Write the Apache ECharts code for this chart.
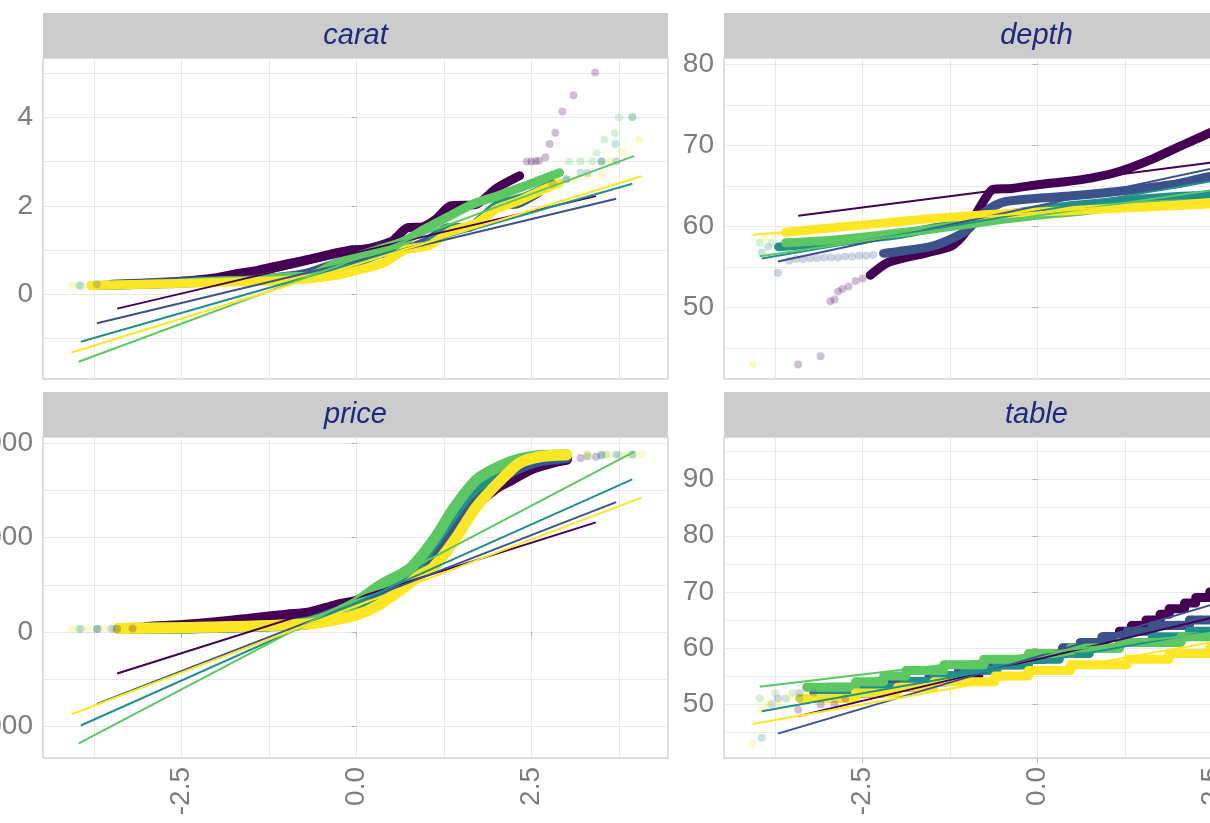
<!DOCTYPE html>
<html>
<head>
<meta charset="utf-8">
<script src="https://cdn.jsdelivr.net/npm/echarts@6/dist/echarts.min.js"></script>
<style>
  html, body { margin: 0; padding: 0; background: #ffffff; }
  #chart { width: 1210px; height: 823px; }
</style>
</head>
<body>
<div id="chart"></div>
<script>
// Normal QQ plots of four diamond measurements, one colour per cut.
const cuts = ['Fair', 'Good', 'Very Good', 'Premium', 'Ideal'];
const cutColors = ['#440154', '#3B528B', '#21908C', '#5DC863', '#FDE725'];
const facetNames = ['carat', 'depth', 'price', 'table'];

// theoretical quantiles (shared x scale)
const xRange = [-4.48, 4.45];
const xMajor = [-2.5, 0, 2.5];
const xMinor = [-3.75, -1.25, 1.25, 3.75];

// sample value scales (free per facet)
const caratRange = [-1.91, 5.34];
const caratMajor = [0, 2, 4];
const caratMinor = [-1, 1, 3, 5];
const depthRange = [41.2, 80.8];
const depthMajor = [50, 60, 70, 80];
const depthMinor = [45, 55, 65, 75];
const priceRange = [-13325, 20667];
const priceMajor = [-10000, 0, 10000, 20000];
const priceMinor = [-5000, 5000, 15000];
const tableRange = [40.4, 97.6];
const tableMajor = [50, 60, 70, 80, 90];
const tableMinor = [45, 55, 65, 75, 85, 95];

// ---- carat: [theoretical, sample] ----
const caratFair = [[-3.42,0.22],[-3.0,0.25],[-2.5,0.3],[-2.0,0.38],[-1.77,0.45],[-1.4,0.55],[-1.0,0.69],[-0.8,0.75],[-0.4,0.9],[-0.06,1.01],[0.1,1.02],[0.5,1.2],[0.72,1.5],[0.95,1.53],[1.15,1.72],[1.34,2.0],[1.7,2.03],[2.0,2.4],[2.33,2.68]];
const caratGood = [[-3.5,0.23],[-3.0,0.26],[-2.5,0.3],[-2.0,0.31],[-1.5,0.33],[-1.0,0.41],[-0.67,0.5],[-0.3,0.7],[0,0.82],[0.3,0.92],[0.67,1.01],[1.0,1.2],[1.3,1.5],[1.6,1.51],[2.0,2.0],[2.3,2.05],[2.6,2.3]];
const caratVeryGood = [[-3.7,0.2],[-3.0,0.23],[-2.5,0.25],[-2.0,0.3],[-1.5,0.31],[-1.0,0.35],[-0.67,0.41],[-0.3,0.55],[0,0.71],[0.3,0.9],[0.67,1.02],[1.0,1.11],[1.3,1.5],[1.6,1.52],[2.0,2.01],[2.4,2.2],[2.8,2.5]];
const caratPremium = [[-3.7,0.2],[-3.0,0.23],[-2.5,0.26],[-2.0,0.3],[-1.5,0.32],[-1.0,0.4],[-0.67,0.42],[-0.3,0.7],[0,0.86],[0.3,1.01],[0.67,1.2],[1.0,1.5],[1.34,1.78],[1.66,2.04],[2.0,2.22],[2.47,2.49],[2.9,2.75]];
const caratIdeal = [[-3.8,0.2],[-3.0,0.23],[-2.0,0.27],[-1.3,0.3],[-0.7,0.35],[-0.34,0.42],[0,0.54],[0.4,0.72],[0.7,1.01],[1.04,1.11],[1.34,1.42],[1.7,1.6],[2.0,1.93],[2.3,2.1],[2.61,2.33],[2.9,2.52]];
const caratFairTail = [[2.43,3.0],[2.5,3.0],[2.56,3.01],[2.61,3.02],[2.7,3.1],[2.76,3.4],[2.84,3.65],[2.94,4.13],[3.1,4.5],[3.41,5.01]];
const caratGoodTail = [[-3.71,0.23],[2.8,2.5],[3.0,2.6],[3.3,2.74],[3.5,3.0],[3.71,3.01]];
const caratVeryGoodTail = [[-3.94,0.2],[3.0,2.6],[3.2,2.75],[3.5,3.0],[3.7,3.4],[3.94,4.0]];
const caratPremiumTail = [[-3.97,0.2],[3.04,3.0],[3.2,3.01],[3.37,3.01],[3.43,3.2],[3.54,3.5],[3.69,3.64],[3.75,4.0],[3.94,4.01]];
const caratIdealTail = [[-4.07,0.2],[3.1,2.6],[3.3,2.67],[3.51,2.7],[3.61,3.0],[3.79,3.22],[4.04,3.5]];
// reference lines: [q from, value, q to, value]
const caratLines = [[-3.42,-0.32,3.42,2.22],[-3.71,-0.65,3.71,2.16],[-3.94,-1.07,3.94,2.5],[-3.97,-1.52,3.97,3.13],[-4.07,-1.31,4.07,2.67]];

// ---- depth ----
const depthFair = [[-2.39,54],[-2.13,55.6],[-1.57,56.8],[-1.23,57.6],[-1.03,59.3],[-0.87,61.7],[-0.73,63.7],[-0.64,64.6],[-0.37,64.7],[0.03,65.2],[0.63,65.8],[1.13,66.7],[1.63,68.3],[2.03,69.9],[2.47,71.6],[2.9,73.5]];
const depthGood = [[-2.2,56.7],[-2.0,56.9],[-1.5,57.6],[-1.2,58.6],[-1.0,59.6],[-0.85,61],[-0.67,62.3],[-0.45,63.1],[0,63.5],[0.5,63.8],[1.0,64.2],[1.5,64.7],[2.0,65.3],[2.47,66.2],[3.0,66.6]];
const depthVeryGood = [[-3.7,57.5],[-3.3,57.8],[-3.0,58],[-2.5,58.5],[-2.0,59],[-1.5,59.8],[-1.0,60.5],[-0.5,61.4],[0,62.1],[0.5,62.6],[1.0,63],[1.5,63.4],[2.0,63.7],[2.5,63.9],[3.0,64]];
const depthPremium = [[-3.6,58],[-3.0,58.3],[-2.5,58.7],[-2.0,59.2],[-1.5,59.7],[-1.0,60.3],[-0.5,60.9],[0,61.4],[0.5,61.8],[1.0,62.3],[1.5,62.6],[2.0,62.8],[2.5,62.9],[3.0,63]];
const depthIdeal = [[-3.6,59.3],[-3.0,59.8],[-2.5,60.2],[-2.0,60.6],[-1.5,61],[-1.0,61.3],[-0.5,61.6],[0,61.8],[0.5,62],[1.0,62.2],[1.5,62.4],[2.0,62.6],[2.5,62.8],[3.0,63]];
const depthFairTail = [[-3.42,43],[-3.1,44],[-2.96,50.8],[-2.9,51],[-2.85,52],[-2.79,52.3],[-2.7,52.6],[-2.6,53.3],[-2.5,53.6],[3.0,74],[3.1,75],[3.2,76.5],[3.42,79]];
const depthGoodTail = [[-3.71,54.3],[-3.55,55.8],[-3.45,56],[-3.35,56],[-3.25,56.1],[-3.15,56.1],[-3.05,56.2],[-2.95,56.2],[-2.85,56.2],[-2.75,56.3],[-2.65,56.3],[-2.55,56.4],[-2.45,56.4],[-2.35,56.5],[3.3,66.8],[3.5,67],[3.71,67]];
const depthVeryGoodTail = [[-3.94,56.8],[-3.85,57.5],[3.4,64.1],[3.94,64.1]];
const depthPremiumTail = [[-3.97,58],[-3.8,58],[3.4,63],[3.97,63]];
const depthIdealTail = [[-4.07,43],[-3.9,58.6],[-3.75,59],[3.3,63.3],[3.6,63.8],[3.85,64.5],[4.07,66.7]];
const depthLines = [[-3.42,61.35,3.42,68.95],[-3.71,55.7,3.71,69.4],[-3.94,56.06,3.94,67.74],[-3.97,56.35,3.97,66.35],[-4.07,59.0,4.07,64.5]];

// ---- price ----
const priceFair = [[-3.0,500],[-2.5,700],[-2.0,1000],[-1.5,1400],[-1.0,1800],[-0.67,2050],[-0.3,2800],[0,3282],[0.3,4200],[0.67,5206],[1.0,7000],[1.3,9800],[1.6,12800],[2.0,15300],[2.2,16100],[2.5,17300],[2.8,18000],[3.0,18300]];
const priceGood = [[-3.2,400],[-2.5,450],[-2.0,520],[-1.5,620],[-1.0,800],[-0.67,1145],[-0.3,2100],[0,3050],[0.3,4000],[0.67,5028],[1.0,7500],[1.3,10500],[1.6,13500],[2.0,16000],[2.3,17300],[2.6,18100],[3.0,18500]];
const priceVeryGood = [[-3.4,380],[-2.5,440],[-2.0,500],[-1.5,600],[-1.0,720],[-0.67,912],[-0.3,1700],[0,2648],[0.3,3800],[0.67,5373],[1.0,8300],[1.3,11500],[1.6,14500],[2.0,16800],[2.3,17900],[2.6,18500],[3.0,18700]];
const pricePremium = [[-3.3,380],[-2.5,450],[-2.0,520],[-1.5,620],[-1.0,800],[-0.67,1046],[-0.3,2000],[0,3185],[0.3,4800],[0.67,6296],[0.79,6900],[1.1,9760],[1.4,13254],[1.71,16113],[2.02,17490],[2.3,18300],[2.64,18700],[3.0,18800]];
const priceIdeal = [[-3.4,380],[-2.5,480],[-2.0,540],[-1.5,640],[-1.0,760],[-0.67,878],[-0.3,1300],[0,1810],[0.3,2800],[0.67,4678],[0.9,6000],[1.1,6900],[1.4,9760],[1.71,13254],[2.02,15795],[2.33,17914],[2.64,18600],[3.0,18780]];
const priceFairTail = [[-3.42,337],[-3.2,400],[3.2,18450],[3.42,18574]];
const priceGoodTail = [[-3.71,327],[-3.5,360],[3.3,18600],[3.5,18700],[3.71,18788]];
const priceVeryGoodTail = [[-3.94,336],[-3.7,360],[3.5,18780],[3.94,18818]];
const pricePremiumTail = [[-3.97,326],[-3.7,340],[-3.45,360],[3.3,18820],[3.57,18823],[3.75,18823],[3.94,18823]];
const priceIdealTail = [[-4.07,326],[-3.85,335],[-3.6,350],[3.3,18800],[3.6,18806],[3.85,18806],[4.07,18806]];
const priceLines = [[-3.42,-4373,3.42,11629],[-3.71,-7591,3.71,13764],[-3.94,-9887,3.94,16172],[-3.97,-11780,3.97,19122],[-4.07,-8687,4.07,14243]];

// ---- table (integer valued, drawn as runs) ----
const tableFair = [[-2.6,52],[-2.2,53],[-1.7,54],[-1.3,55],[-0.84,56],[-0.61,57],[-0.25,58],[0.05,59],[0.36,60],[0.71,61],[0.95,62],[1.17,63],[1.34,64],[1.55,65],[1.75,66],[1.88,67],[2.1,68],[2.26,69],[2.46,70],[2.6,70]];
const tableGood = [[-3.0,53],[-2.3,54],[-1.55,55],[-1.13,56],[-0.64,57],[-0.2,58],[0.1,59],[0.36,60],[0.61,61],[0.92,62],[1.28,63],[1.64,64],[2.17,65],[2.7,65]];
const tableVeryGood = [[-3.2,52],[-2.6,53],[-1.9,54],[-1.48,55],[-1.04,56],[-0.58,57],[-0.13,58],[0.31,59],[0.74,60],[1.17,61],[1.64,62],[2.17,63],[2.65,64],[3.1,64]];
const tablePremium = [[-3.3,53],[-2.6,54],[-2.2,55],[-1.88,56],[-1.34,57],[-0.77,58],[-0.13,59],[0.47,60],[1.17,61],[2.05,62],[3.6,62]];
const tableIdeal = [[-3.4,51],[-2.6,52],[-2.0,53],[-1.48,54],[-0.61,55],[-0.13,56],[0.47,57],[1.28,58],[1.88,59],[2.46,60],[2.88,61],[3.2,62],[3.5,62]];
const tableFairTail = [[-3.42,49],[-3.1,50],[-2.9,50],[-2.75,51],[2.7,70],[2.8,71],[2.95,73],[3.1,76],[3.25,79],[3.42,95]];
const tableGoodTail = [[-3.71,51],[-3.4,52],[-3.2,52],[3.0,66],[3.4,66],[3.71,66]];
const tableVeryGoodTail = [[-3.94,44],[-3.8,50],[-3.6,51],[-3.4,51],[3.3,65],[3.6,65],[3.94,66]];
const tablePremiumTail = [[-3.97,51],[-3.75,52],[-3.5,52],[3.8,62],[3.97,62]];
const tableIdealTail = [[-4.07,43],[-3.95,49],[-3.85,50],[-3.7,50],[-3.55,51],[3.6,62],[3.8,63],[4.07,63]];
const tableLines = [[-3.42,47.86,3.42,68.14],[-3.71,44.75,3.71,72.25],[-3.94,48.74,3.94,66.26],[-3.97,53.11,3.97,64.89],[-4.07,46.45,4.07,64.55]];

// ---------------------------------------------------------------
const FONT = '"Liberation Sans", Arial, Helvetica, sans-serif';
const TEXT_GREY = '#7d7d7d';
const GRID_GREY = '#e8e8e8';
const BORDER_GREY = '#bdbdbd';

const panels = [
  { name: facetNames[0], left: 43,  top: 58,  range: caratRange, major: caratMajor, minor: caratMinor, showX: false, band: 9,
    bands: [caratFair, caratGood, caratVeryGood, caratPremium, caratIdeal],
    tails: [caratFairTail, caratGoodTail, caratVeryGoodTail, caratPremiumTail, caratIdealTail], lines: caratLines, step: false },
  { name: facetNames[1], left: 724, top: 58,  range: depthRange, major: depthMajor, minor: depthMinor, showX: false, band: 9,
    bands: [depthFair, depthGood, depthVeryGood, depthPremium, depthIdeal],
    tails: [depthFairTail, depthGoodTail, depthVeryGoodTail, depthPremiumTail, depthIdealTail], lines: depthLines, step: false },
  { name: facetNames[2], left: 43,  top: 437, range: priceRange, major: priceMajor, minor: priceMinor, showX: true, band: 11,
    bands: [priceFair, priceGood, priceVeryGood, pricePremium, priceIdeal],
    tails: [priceFairTail, priceGoodTail, priceVeryGoodTail, pricePremiumTail, priceIdealTail], lines: priceLines, step: false },
  { name: facetNames[3], left: 724, top: 437, range: tableRange, major: tableMajor, minor: tableMinor, showX: true, band: 9,
    bands: [tableFair, tableGood, tableVeryGood, tablePremium, tableIdeal],
    tails: [tableFairTail, tableGoodTail, tableVeryGoodTail, tablePremiumTail, tableIdealTail], lines: tableLines, step: true }
];
const PANEL_W = 625, PANEL_H = 321, STRIP_H = 45;

const grids = [], xAxes = [], yAxes = [], pointSeries = [], lineSeries = [], graphics = [];

panels.forEach((p, i) => {
  grids.push({
    left: p.left, top: p.top, width: PANEL_W, height: PANEL_H,
    show: true, backgroundColor: '#ffffff', borderColor: BORDER_GREY, borderWidth: 1,
    containLabel: false, outerBoundsMode: 'none'
  });
  const gridLinesX = xMajor.concat(xMinor);
  const gridLinesY = p.major.concat(p.minor);
  // axes carrying the grid lines
  xAxes.push({
    type: 'value', gridIndex: i, min: xRange[0], max: xRange[1], position: 'bottom',
    axisLine: { show: false }, axisLabel: { show: false },
    axisTick: { show: false, customValues: gridLinesX },
    splitLine: { show: true, customValues: gridLinesX, lineStyle: { color: GRID_GREY, width: 1 } }
  });
  yAxes.push({
    type: 'value', gridIndex: i, min: p.range[0], max: p.range[1], position: 'left',
    axisLine: { show: false }, axisLabel: { show: false },
    axisTick: { show: false, customValues: gridLinesY },
    splitLine: { show: true, customValues: gridLinesY, lineStyle: { color: GRID_GREY, width: 1 } }
  });
  // axes carrying ticks and labels
  xAxes.push({
    type: 'value', gridIndex: i, min: xRange[0], max: xRange[1], position: 'bottom',
    axisLine: { show: false }, splitLine: { show: false },
    axisTick: { show: p.showX, length: 5, customValues: xMajor, lineStyle: { color: '#b3b3b3', width: 1 } },
    axisLabel: {
      show: p.showX, customValues: xMajor, rotate: 90, margin: 9,
      color: TEXT_GREY, fontSize: 28, fontFamily: FONT,
      formatter: v => Number(v).toFixed(1)
    }
  });
  yAxes.push({
    type: 'value', gridIndex: i, min: p.range[0], max: p.range[1], position: 'left',
    axisLine: { show: false }, splitLine: { show: false },
    axisTick: { show: true, length: 5, customValues: p.major, lineStyle: { color: '#b3b3b3', width: 1 } },
    axisLabel: {
      show: true, customValues: p.major, margin: 10,
      color: TEXT_GREY, fontSize: 28, fontFamily: FONT,
      formatter: v => String(v)
    }
  });

  const axisIdx = i * 2;
  cuts.forEach((cut, c) => {
    pointSeries.push({
      type: 'line', name: cut, xAxisIndex: axisIdx, yAxisIndex: axisIdx,
      data: p.bands[c], showSymbol: false, step: p.step ? 'end' : false,
      smooth: p.step ? false : 0.25,
      lineStyle: { color: cutColors[c], width: p.band, cap: 'round', join: 'round' },
      itemStyle: { color: cutColors[c] }, z: 2, silent: true
    });
    pointSeries.push({
      type: 'scatter', name: cut, xAxisIndex: axisIdx, yAxisIndex: axisIdx,
      data: p.tails[c], symbolSize: 8,
      itemStyle: { color: cutColors[c], opacity: 0.25 }, z: 2, silent: true
    });
    const L = p.lines[c];
    lineSeries.push({
      type: 'line', name: cut, xAxisIndex: axisIdx, yAxisIndex: axisIdx,
      data: [[L[0], L[1]], [L[2], L[3]]], showSymbol: false,
      lineStyle: { color: cutColors[c], width: 2 }, z: 3, silent: true
    });
  });

  // facet strip
  graphics.push({
    type: 'rect', shape: { x: p.left, y: p.top - STRIP_H, width: PANEL_W, height: STRIP_H },
    style: { fill: '#cccccc' }, silent: true
  });
  graphics.push({
    type: 'text', x: p.left + PANEL_W / 2, y: p.top - STRIP_H / 2,
    style: {
      text: p.name, fill: '#1b2a7e', font: 'italic 29px ' + FONT,
      align: 'center', verticalAlign: 'middle'
    }, silent: true
  });
});

const chart = echarts.init(document.getElementById('chart'), null, { renderer: 'canvas' });
chart.setOption({
  backgroundColor: '#ffffff',
  animation: false,
  grid: grids,
  xAxis: xAxes,
  yAxis: yAxes,
  series: pointSeries.concat(lineSeries),
  graphic: graphics
});
</script>
</body>
</html>
